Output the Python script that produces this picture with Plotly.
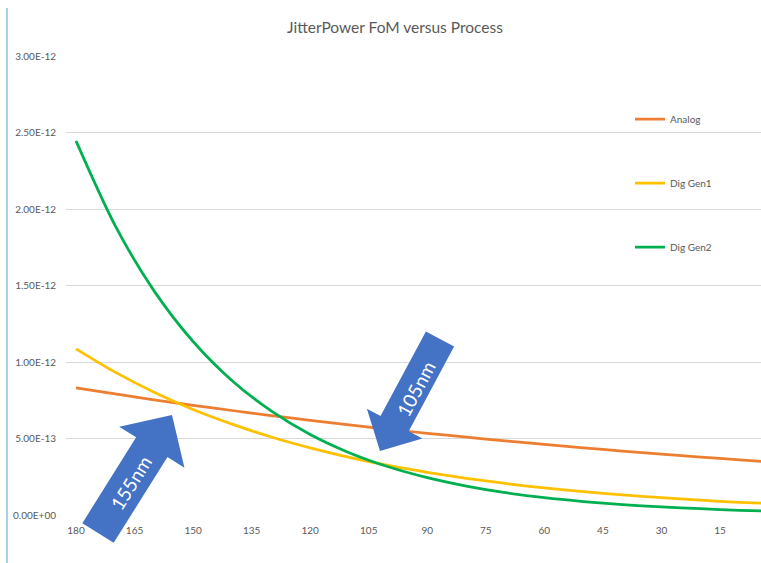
import plotly.graph_objects as go

# Process node (nm) and JitterPower figure of merit for each architecture
process_nm = [180, 170, 160, 150, 140, 130, 120, 110, 100, 90,
              80, 70, 60, 50, 40, 30, 20, 10, 0]
analog = [0.831, 0.791, 0.753, 0.717, 0.683, 0.650, 0.619, 0.589, 0.561, 0.534,
          0.509, 0.484, 0.461, 0.439, 0.418, 0.398, 0.379, 0.361, 0.343]
dig_gen1 = [1.086, 0.934, 0.803, 0.690, 0.594, 0.510, 0.439, 0.377, 0.324, 0.279,
            0.240, 0.206, 0.177, 0.152, 0.131, 0.113, 0.097, 0.083, 0.072]
dig_gen2 = [2.445, 1.893, 1.465, 1.134, 0.878, 0.680, 0.526, 0.407, 0.315, 0.244,
            0.189, 0.146, 0.113, 0.088, 0.068, 0.053, 0.041, 0.031, 0.024]
scale = 1e-12

x_tick_vals = [180, 165, 150, 135, 120, 105, 90, 75, 60, 45, 30, 15]
x_tick_text = [str(v) for v in x_tick_vals]
y_tick_vals = [0, 0.5e-12, 1.0e-12, 1.5e-12, 2.0e-12, 2.5e-12, 3.0e-12]
y_tick_text = ["0.00E+00", "5.00E-13", "1.00E-12", "1.50E-12",
               "2.00E-12", "2.50E-12", "3.00E-12"]

series_names = ["Analog", "Dig Gen1", "Dig Gen2"]
series_colors = ["#ED7D31", "#FFC000", "#00B050"]
series_values = [analog, dig_gen1, dig_gen2]

# Callout arrows: label, tail centre, tip (pixels), shaft width, head width, head length
callouts = [
    ("155nm", (98, 533), (172, 415), 37, 77, 38, (130, 483), -58),
    ("105nm", (440, 339), (380, 451), 32, 63, 31, (415, 389), -62),
]

W, H = 761, 563
L, R, T, B = 66, 0, 56, 48
PW, PH = W - L - R, H - T - B
FONT = "Lato, 'Open Sans', sans-serif"
GREY = "#595959"


def to_paper(x, y):
    return (x - L) / PW, (H - B - y) / PH


def arrow_path(tail, tip, shaft_w, head_w, head_len):
    dx, dy = tip[0] - tail[0], tip[1] - tail[1]
    length = (dx * dx + dy * dy) ** 0.5
    ux, uy = dx / length, dy / length
    nx, ny = -uy, ux
    bx, by = tip[0] - ux * head_len, tip[1] - uy * head_len
    pts = [
        (tail[0] + nx * shaft_w / 2, tail[1] + ny * shaft_w / 2),
        (bx + nx * shaft_w / 2, by + ny * shaft_w / 2),
        (bx + nx * head_w / 2, by + ny * head_w / 2),
        tip,
        (bx - nx * head_w / 2, by - ny * head_w / 2),
        (bx - nx * shaft_w / 2, by - ny * shaft_w / 2),
        (tail[0] - nx * shaft_w / 2, tail[1] - ny * shaft_w / 2),
    ]
    pp = [to_paper(*p) for p in pts]
    return "M" + " L".join(f"{a:.5f},{b:.5f}" for a, b in pp) + " Z"


fig = go.Figure()
legend_rows = [119, 183, 247]
for i, (name, color, vals) in enumerate(zip(series_names, series_colors, series_values)):
    key = "legend" if i == 0 else f"legend{i + 1}"
    fig.add_trace(go.Scatter(
        x=process_nm, y=[v * scale for v in vals], name=name, mode="lines",
        line=dict(color=color, width=2.75, shape="spline", smoothing=0.8),
        legend=key, showlegend=True, hoverinfo="skip",
    ))

legend_layout = {}
for i, row in enumerate(legend_rows):
    key = "legend" if i == 0 else f"legend{i + 1}"
    lx, ly = to_paper(630, row)
    legend_layout[key] = dict(
        x=lx, y=ly, xanchor="left", yanchor="middle",
        bgcolor="rgba(0,0,0,0)", borderwidth=0,
        font=dict(family=FONT, size=10, color=GREY),
    )

shapes = []
annotations = []
for label, tail, tip, sw, hw, hl, tpos, ang in callouts:
    shapes.append(dict(
        type="path", xref="paper", yref="paper",
        path=arrow_path(tail, tip, sw, hw, hl),
        fillcolor="#4472C4", line=dict(width=0), layer="above",
    ))
    ax, ay = to_paper(*tpos)
    annotations.append(dict(
        x=ax, y=ay, xref="paper", yref="paper", text=label, showarrow=False,
        textangle=ang, font=dict(family=FONT, size=19, color="white"),
        xanchor="center", yanchor="middle",
    ))

# thin frame line down the left side
x0, y0 = to_paper(7, 8)
x1, y1 = to_paper(7, 563)
shapes.append(dict(type="line", xref="paper", yref="paper", x0=x0, x1=x1, y0=y0, y1=y1,
                   line=dict(color="#8CC3D8", width=1.5), layer="above"))

fig.update_layout(
    width=W, height=H,
    margin=dict(l=L, r=R, t=T, b=B, pad=0),
    paper_bgcolor="white", plot_bgcolor="white",
    showlegend=True,
    title=dict(text="JitterPower FoM versus Process", xref="container", yref="container",
               x=395 / W, y=1 - 28 / H, xanchor="center", yanchor="middle",
               font=dict(family=FONT, size=15.5, color=GREY)),
    xaxis=dict(range=[182.56, 4.5], tickvals=x_tick_vals, ticktext=x_tick_text,
               showgrid=False, zeroline=False, showline=False, ticks="",
               ticklabelstandoff=8,
               tickfont=dict(family=FONT, size=10, color=GREY)),
    yaxis=dict(range=[0, 3e-12], tickvals=y_tick_vals, ticktext=y_tick_text,
               showgrid=True, gridcolor="#D9D9D9", gridwidth=1,
               zeroline=True, zerolinecolor="white", showline=False, ticks="",
               ticklabelstandoff=9,
               tickfont=dict(family=FONT, size=10, color=GREY)),
    shapes=shapes, annotations=annotations,
    **legend_layout,
)

fig.write_html("out.html")
